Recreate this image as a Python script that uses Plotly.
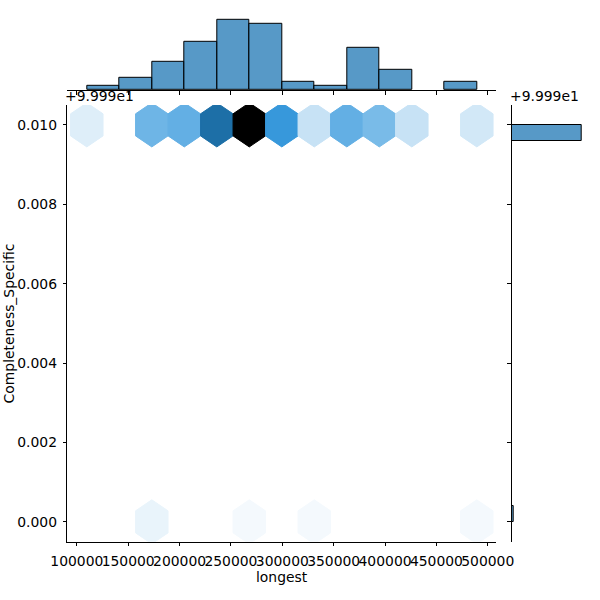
import colorsys
import numpy as np
import plotly.graph_objects as go

# ---------------- data ----------------
longest_min = 109700.0
longest_max = 489300.0
n_x_bins = 12
hist_x_counts = [2, 6, 14, 24, 35, 33, 4, 2, 21, 10, 0, 4]

# hexbin columns sit on the bin edges (13 columns), two rows of y values
y_values = [99.99, 100.0]
hex_top_counts = [3, 0, 13, 14, 24, 39, 18, 5, 14, 12, 5, 0, 4]     # y = 100.0
hex_bottom_counts = [0, 0, 2, 0, 0, 1, 0, 1, 0, 0, 0, 0, 1]        # y = 99.99

# right marginal histogram (25 bins over 99.99 .. 100.0)
n_y_bins = 25
y_hist_counts = [5, 151]          # bottom bin, top bin

x_tick_vals = [100000, 150000, 200000, 250000, 300000, 350000, 400000, 450000, 500000]
x_tick_text = [str(v) for v in x_tick_vals]
y_tick_offsets = [0.000, 0.002, 0.004, 0.006, 0.008, 0.010]
y_tick_text = ["0.000", "0.002", "0.004", "0.006", "0.008", "0.010"]
y_offset_label = "+9.999e1"

# ---------------- derived ----------------
edges = np.linspace(longest_min, longest_max, n_x_bins + 1)
binw = edges[1] - edges[0]
centers = (edges[:-1] + edges[1:]) / 2
ymin, ymax = y_values
ybinw = (ymax - ymin) / n_y_bins
ny = int(n_x_bins / np.sqrt(3))
sx = binw
sy = (ymax - ymin) / ny

x_range = [longest_min - 0.05 * (longest_max - longest_min), longest_max + 0.05 * (longest_max - longest_min)]
y_range = [ymin - 0.05 * (ymax - ymin), ymax + 0.05 * (ymax - ymin)]

# seaborn-like hex colormap: C0 hue, lightness 1 -> 0
base = (31 / 255, 119 / 255, 180 / 255)
h, l, s = colorsys.rgb_to_hls(*base)
pal = [colorsys.hls_to_rgb(h, li, s) for li in np.linspace(1, 0, 12)]


def cmap(t):
    t = min(max(t, 0.0), 1.0)
    pos = t * (len(pal) - 1)
    i = min(int(pos), len(pal) - 2)
    f = pos - i
    c = [(1 - f) * pal[i][k] + f * pal[i + 1][k] for k in range(3)]
    return "rgb(%d,%d,%d)" % tuple(round(v * 255) for v in c)


vmax = max(max(hex_top_counts), max(hex_bottom_counts))

fig = go.Figure()

hex_dx = np.array([0.5, 0.5, 0, -0.5, -0.5, 0, 0.5]) * sx
hex_dy = np.array([-0.5, 0.5, 1, 0.5, -0.5, -1, -0.5]) * sy / 3
for yv, counts in ((ymax, hex_top_counts), (ymin, hex_bottom_counts)):
    for i, c in enumerate(counts):
        if c <= 0:
            continue
        cx = edges[i]
        col = cmap(c / vmax)
        fig.add_trace(go.Scatter(
            x=cx + hex_dx, y=yv + hex_dy, mode="lines", fill="toself",
            fillcolor=col, line=dict(color=col, width=1),
            xaxis="x", yaxis="y", showlegend=False, hoverinfo="skip"))

bar_fill = "rgba(31,119,180,0.75)"
nz = [i for i, c in enumerate(hist_x_counts) if c > 0]
fig.add_trace(go.Bar(
    x=[centers[i] for i in nz], y=[hist_x_counts[i] for i in nz], width=binw,
    marker=dict(color=bar_fill, line=dict(color="black", width=1)),
    xaxis="x2", yaxis="y2", showlegend=False))

fig.add_trace(go.Bar(
    y=[ymin + ybinw / 2, ymax - ybinw / 2], x=y_hist_counts, width=ybinw, orientation="h",
    marker=dict(color=bar_fill, line=dict(color="black", width=1)),
    xaxis="x3", yaxis="y3", showlegend=False))

W = H = 600.0
main_x = [67.3 / W, 496.3 / W]
main_y = [1 - 541.7 / H, 1 - 105 / H]
top_y = [1 - 90 / H, 1 - 15.8 / H]
right_x = [511.7 / W, 585.2 / W]

font = dict(family="DejaVu Sans", size=13.9, color="black")
axis_common = dict(showgrid=False, zeroline=False, showline=True, linecolor="black", linewidth=1,
                   ticks="outside", ticklen=3.5, tickwidth=1, tickcolor="black", tickfont=font,
                   automargin=False)

fig.update_layout(
    width=600, height=600, margin=dict(l=0, r=0, t=0, b=0, autoexpand=False),
    paper_bgcolor="white", plot_bgcolor="white", font=font, bargap=0,
    xaxis=dict(domain=main_x, range=x_range, anchor="y", tickmode="array", tickvals=x_tick_vals,
               ticktext=x_tick_text, tickangle=0, ticklabelstandoff=3, **axis_common),
    yaxis=dict(domain=main_y, range=y_range, anchor="x", tickmode="array",
               tickvals=[ymin + v for v in y_tick_offsets], ticktext=y_tick_text,
               ticklabelstandoff=3, **axis_common),
    xaxis2=dict(domain=main_x, range=x_range, anchor="y2", tickmode="array", tickvals=x_tick_vals,
                showticklabels=False, **axis_common),
    yaxis2=dict(domain=top_y, range=[0, max(hist_x_counts) * 1.05], anchor="x2", visible=False),
    xaxis3=dict(domain=right_x, range=[0, max(y_hist_counts) * 1.05], anchor="y3", visible=False),
    yaxis3=dict(domain=main_y, range=y_range, anchor="x3", tickmode="array",
                tickvals=[ymin + v for v in y_tick_offsets], showticklabels=False, **axis_common),
)

fig.add_annotation(text="longest", x=281.8 / W, y=1 - 577 / H, xref="paper", yref="paper",
                   showarrow=False, font=font, xanchor="center", yanchor="middle")
fig.add_annotation(text="Completeness_Specific", x=9 / W, y=1 - 323.4 / H, xref="paper", yref="paper",
                   showarrow=False, font=font, textangle=-90, xanchor="center", yanchor="middle")
fig.add_annotation(text=y_offset_label, x=63 / W, y=1 - 96 / H, xref="paper", yref="paper",
                   showarrow=False, font=font, xanchor="left", yanchor="middle")
fig.add_annotation(text=y_offset_label, x=508 / W, y=1 - 96 / H, xref="paper", yref="paper",
                   showarrow=False, font=font, xanchor="left", yanchor="middle")

fig.write_html("out.html")
